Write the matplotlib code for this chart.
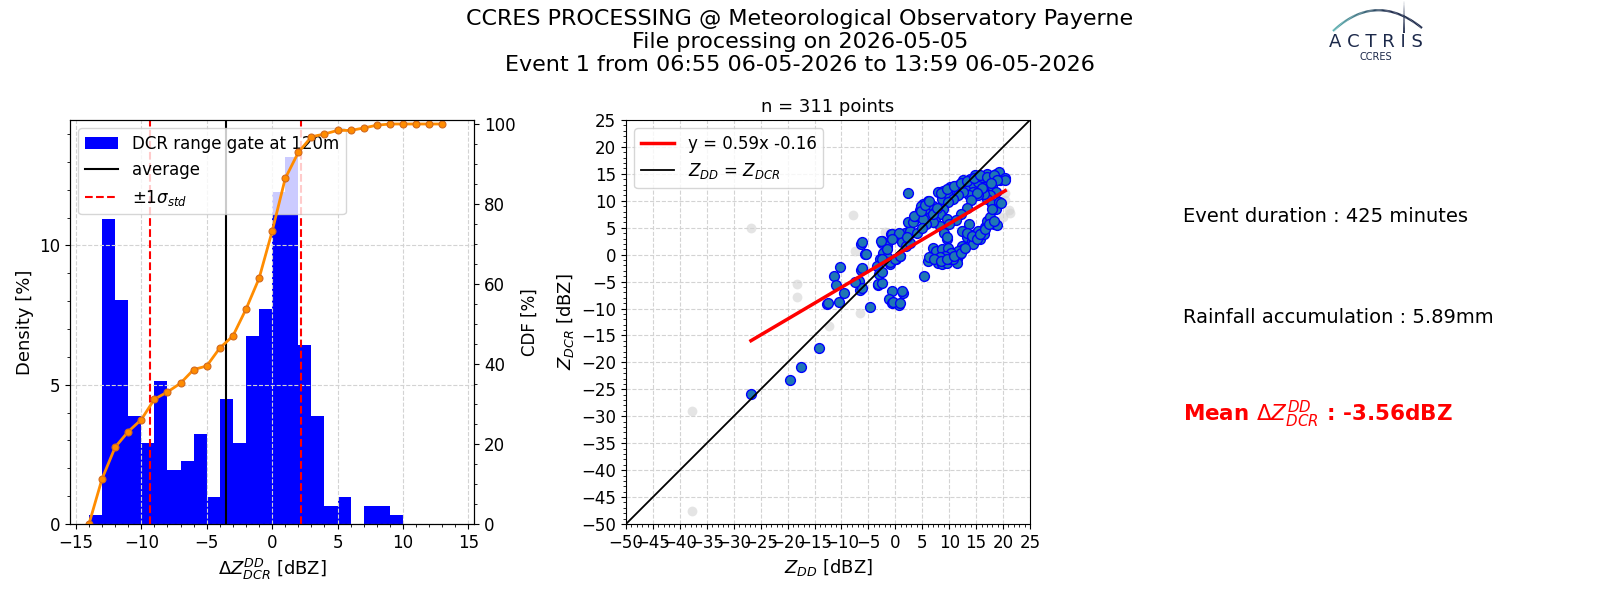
import numpy as np
import matplotlib
matplotlib.use("Agg")
import matplotlib.pyplot as plt
from matplotlib.ticker import MultipleLocator
from matplotlib.collections import LineCollection

# ---------------- data ----------------
bin_edges = [-14, -13, -12, -11, -10, -9, -8, -7, -6, -5, -4, -3, -2, -1,
             0, 1, 2, 3, 4, 5, 6, 7, 8, 9, 10]
density_pct = [0.32, 10.93, 8.04, 3.86, 2.89, 5.14, 1.93, 2.25, 3.22, 0.96,
               4.50, 2.89, 6.75, 7.72, 11.90, 13.18, 6.43, 3.86, 0.64, 0.96,
               0.0, 0.64, 0.64, 0.32]
cdf_x = [-14, -13, -12, -11, -10, -9, -8, -7, -6, -5, -4, -3, -2, -1, 0, 1,
         2, 3, 4, 5, 6, 7, 8, 9, 10, 11, 12, 13]
cdf_pct = [0.0, 11.3, 19.2, 23.1, 26.1, 31.2, 33.0, 35.2, 38.6, 39.5, 44.0,
           47.0, 53.7, 61.4, 73.2, 86.4, 92.9, 96.8, 97.5, 98.4, 98.4, 99.0,
           99.7, 100, 100, 100, 100, 100]
mean_dz = -3.56
std_dz = 5.77

z_dd_valid = [
    -26.8, -19.5, -17.5, -14.1, -12.6, -10.5, -9.6, -11.3, -10.35, -11.0,
    -6.3, -5.6, -6.3, -6.5, -4.65, -3.3, -0.6, -1.25, -0.6, 0.6, 1.4, -0.8,
    -2.5, 0.6, 2.5, 2.5,
    2.27, -12.5, -6.2, -5.5, -6.2, -6.8, -6.2, -7.5, -3.25, -2.5, -0.4, 0.86,
    1.3, -2.5, -1.6, -0.7, 0.55, -2.2, -1.6, -1.0, 0.2, 0.86, -2.8, -3.4,
    -3.1, -2.5, 1.2, 1.8, 2.7, 2.4, 3.3, 3.6, 4.5, 4.8, 5.2, 5.3,
    4.8, 5.75, 6.1, 7.0, 6.4, 7.3, 7.9, 8.6, 8.9, 9.8, 10.1, 11.1, 11.4, 12.0,
    12.6, 13.3, 13.9, 14.5, 14.8, 15.4, 16.1, 16.7, 17.0, 17.6, 17.9, 18.6,
    19.2, 19.5, 20.4, 18.6, 17.6, 17.0, 17.9, 19.2, 16.4, 15.4, 14.5, 13.6,
    12.6, 11.7, 10.75, 9.8, 8.9, 8.25, 7.3, 9.5, 8.25, 7.0, 5.75, 5.1,
    9.5, 7.0, 7.6, 8.6, 9.8, 6.4, 7.3, 7.9, 8.6, 9.5, 10.1, 10.75, 11.4, 12.0,
    12.3, 12.6, 13.6, 13.3, 14.2, 14.8, 15.4, 15.75, 16.7, 17.0, 17.6, 18.25,
    18.6, 17.9, 19.3, 16.4, 14.5, 12.6, 11.7, 10.4, 9.2, 8.25, 6.1, 11.4, 10.75,
    20.3, 19.6, 18.9,
    3.5, 4.7, 5.6, 6.2, 6.9, 7.8, 8.4, 9.6, 10.9, 12.1, 13.3, 14.6, 15.8, 17.0,
    18.3, 18.9, 17.7, 16.1, 15.2, 14.0, 13.3, 12.1, 11.2, 10.0, 9.0, 9.6, 12.4,
    13.3, 14.3, 15.2, 15.8, 16.7, 17.3, 18.3, 6.2, 7.2, 8.4, 9.6, 10.9, 12.1,
    13.0, 0.7, -0.6, -1.5, -2.4, -2.7, -0.9, 0.0, 0.9, 1.9, 2.8, 4.1, 5.0, 2.2]
z_dcr_valid = [
    -25.9, -23.3, -20.9, -17.4, -9.2, -8.7, -7.2, -4.0, -2.3, -5.7,
    1.9, 0.1, -2.9, -6.6, -9.8, -5.7, -6.8, -8.3, -9.05, -9.4, -7.1, 3.8,
    2.2, 3.3, 3.8, 5.9,
    11.4, -9.0, 2.3, 0.1, -2.4, -4.9, -6.1, -5.1, -5.5, -5.3, -8.8, -8.9,
    -6.7, 2.6, 1.6, 3.8, 3.4, 0.4, -0.5, -1.8, -0.8, -0.2, -0.8, -2.1,
    -3.6, -3.3, 2.3, 4.1, 4.4, 6.0, 6.1, 7.2, 8.2, 7.5, 9.4, -4.0,
    9.1, 8.5, 10.0, 9.1, 6.9, 7.9, 11.6, 10.3, 11.9, 11.3, 12.5, 12.8, 11.6, 13.1,
    13.8, 12.5, 14.1, 13.1, 14.7, 13.4, 14.4, 12.5, 15.0, 14.1, 12.8, 15.0,
    15.3, 13.8, 14.2, 11.6, 11.0, 10.3, 9.4, 9.7, 11.3, 11.0, 11.6, 11.0,
    11.6, 11.0, 10.3, 9.7, 8.5, 7.5, 6.3, 6.6, 5.4, 6.0, 5.7, 6.6,
    2.9, 1.3, 0.7, 1.0, 1.3, -0.8, -0.8, -1.5, -1.8, -1.5, -0.8, -0.2, -0.8, 0.1,
    1.6, 4.4, 5.7, 3.2, 2.6, 3.8, 4.4, 2.9, 5.1, 6.3, 6.9, 5.7,
    8.5, 8.5, 9.7, 3.8, 2.0, 1.0, 0.7, 0.4, -0.2, -0.5, -1.1, -1.5, -0.8,
    13.95, 9.5, 5.5,
    7.1, 8.1, 9.3, 9.9, 7.5, 8.7, 11.4, 12.1, 12.7, 13.3, 13.6, 14.2, 14.8, 14.5,
    14.8, 13.9, 13.3, 12.4, 11.4, 10.2, 8.7, 7.5, 6.5, 5.6, 4.1, 3.2, 4.4,
    4.1, 3.5, 2.9, 3.8, 4.7, 5.6, 6.2, -0.5, -0.8, -1.1, -0.8, -0.2, 0.4,
    1.3, 4.1, 2.9, 1.0, -0.8, 2.5, -1.4, -0.8, -0.2, 1.6, 2.2, 4.1, 5.0, 3.2]

z_dd_excluded = [-26.8, -7.9, -18.2, -18.2, -6.6, -12.3, -37.7, -37.7, -7.5,
                 -1.9, -5.6, 20.4, 21.2, 20.0, 20.4, 21.1]
z_dcr_excluded = [4.9, 7.3, -5.5, -7.9, -10.8, -13.2, -29.0, -47.6, 0.7,
                  4.2, -2.7, 10.1, 7.75, 7.0, 11.5, 8.2]

fit_slope = 0.59
fit_intercept = -0.16
n_points = 311

title_lines = ["CCRES PROCESSING @ Meteorological Observatory Payerne",
               "File processing on 2026-05-05",
               "Event 1 from 06:55 06-05-2026 to 13:59 06-05-2026"]
event_duration_min = 425
rain_accum_mm = 5.89

# ---------------- figure ----------------
plt.rcParams['font.family'] = ['DejaVu Sans']
fig = plt.figure(figsize=(16, 6), dpi=100)

# Histogram + CDF
ax1 = fig.add_axes([0.04375, 0.1267, 0.2527, 0.6733])
edges = np.array(bin_edges, dtype=float)
h_bar = ax1.bar(edges[:-1], density_pct, width=np.diff(edges), align='edge',
                color='blue', label='DCR range gate at 120m')
h_avg = ax1.axvline(mean_dz, color='black', lw=1.5, label='average')
h_std = ax1.axvline(mean_dz - std_dz, color='red', ls='--', lw=1.5,
                    label=r'$\pm1\sigma_{std}$')
ax1.axvline(mean_dz + std_dz, color='red', ls='--', lw=1.5)
ax1.set_xlim(-15.45, 15.45)
ax1.set_ylim(0, 14.5)
ax1.xaxis.set_major_locator(MultipleLocator(5))
ax1.xaxis.set_minor_locator(MultipleLocator(1))
ax1.yaxis.set_major_locator(MultipleLocator(5))
ax1.yaxis.set_minor_locator(MultipleLocator(1))
ax1.grid(True, ls='--', color='lightgray', lw=0.8)
ax1.tick_params(labelsize=12)
ax1.set_xlabel(r'$\Delta Z_{DCR}^{DD}$ [dBZ]', fontsize=13)
ax1.set_ylabel('Density [%]', fontsize=13)
ax1.legend(handles=[h_bar, h_avg, h_std], loc='upper left', fontsize=12)

ax2 = ax1.twinx()
ax2.plot(cdf_x, cdf_pct, color='darkorange', lw=2, marker='o', ms=5,
         mfc='darkorange', mec='chocolate', mew=0.8)
ax2.set_ylim(0, 101)
ax2.yaxis.set_major_locator(MultipleLocator(20))
ax2.yaxis.set_minor_locator(MultipleLocator(5))
ax2.tick_params(labelsize=12)
ax2.set_ylabel('CDF [%]', fontsize=12)

# Scatter
ax3 = fig.add_axes([0.39125, 0.1267, 0.2525, 0.6733])
ax3.scatter(z_dd_excluded, z_dcr_excluded, s=50, color='lightgray',
            alpha=0.6, lw=0, zorder=2)
ax3.scatter(z_dd_valid, z_dcr_valid, s=50, facecolor='#1f77b4',
            edgecolor='blue', lw=1, zorder=3)
lim = np.array([-50, 25])
h_one, = ax3.plot(lim, lim, color='black', lw=1.3, zorder=4,
                  label=r'$Z_{DD}$ = $Z_{DCR}$')
xr = np.array([min(z_dd_valid), max(z_dd_valid)])
h_fit, = ax3.plot(xr, fit_slope * xr + fit_intercept, color='red', lw=2.5,
                  zorder=5, label=f'y = {fit_slope}x {fit_intercept}')
ax3.set_xlim(-50, 25)
ax3.set_ylim(-50, 25)
for axis in (ax3.xaxis, ax3.yaxis):
    axis.set_major_locator(MultipleLocator(5))
    axis.set_minor_locator(MultipleLocator(1))
ax3.grid(True, ls='--', color='lightgray', lw=0.8)
ax3.tick_params(labelsize=12)
ax3.set_title(f'n = {n_points} points', fontsize=13)
ax3.set_xlabel(r'$Z_{DD}$ [dBZ]', fontsize=13)
ax3.set_ylabel(r'$Z_{DCR}$ [dBZ]', fontsize=13)
ax3.legend(handles=[h_fit, h_one], loc='upper left', fontsize=12)

# Title
fig.suptitle("\n".join(title_lines), fontsize=16, y=0.985, va='top')

# Right-hand texts
fig.text(0.7394, 0.6305, f'Event duration : {event_duration_min} minutes',
         fontsize=14, va='baseline')
fig.text(0.7394, 0.4622, f'Rainfall accumulation : {rain_accum_mm}mm',
         fontsize=14, va='baseline')
fig.text(0.7394, 0.2972, r'Mean $\Delta Z_{DCR}^{DD}$ : ' + f'{mean_dz}dBZ',
         fontsize=15.5, va='baseline', color='red', fontweight='bold')

# Logo (ACTRIS / CCRES)
navy = np.array([0.11, 0.16, 0.29])
teal = np.array([0.36, 0.70, 0.70])
t = np.linspace(0, 1, 80)
p0, p1, p2 = np.array([1333, 31]), np.array([1376, -9]), np.array([1422, 28])
pts = ((1 - t) ** 2)[:, None] * p0 + (2 * (1 - t) * t)[:, None] * p1 + (t ** 2)[:, None] * p2
xs, ys = pts[:, 0] / 1600, 1 - pts[:, 1] / 600
segs = np.stack([np.column_stack([xs[:-1], ys[:-1]]),
                 np.column_stack([xs[1:], ys[1:]])], axis=1)
cols = [tuple(teal + (navy - teal) * min(1, v * 1.6)) for v in t[:-1]]
fig.add_artist(LineCollection(segs, colors=cols, linewidths=1.6,
                              transform=fig.transFigure))
tv = np.linspace(0, 1, 30)
vy = 1 - (tv * 33) / 600
vsegs = np.stack([np.column_stack([np.full(29, 1404 / 1600), vy[:-1]]),
                  np.column_stack([np.full(29, 1404 / 1600), vy[1:]])], axis=1)
vcols = [(*navy, a) for a in tv[:-1]]
fig.add_artist(LineCollection(vsegs, colors=vcols, linewidths=1.4,
                              transform=fig.transFigure))
fig.text(1376 / 1600, 1 - 46.7 / 600, 'A C T R I S', ha='center',
         va='baseline', fontsize=13, color=navy)
fig.text(1376 / 1600, 1 - 59.5 / 600, 'CCRES', ha='center', va='baseline',
         fontsize=7, color=navy)

fig.savefig('out.png', dpi=100)
